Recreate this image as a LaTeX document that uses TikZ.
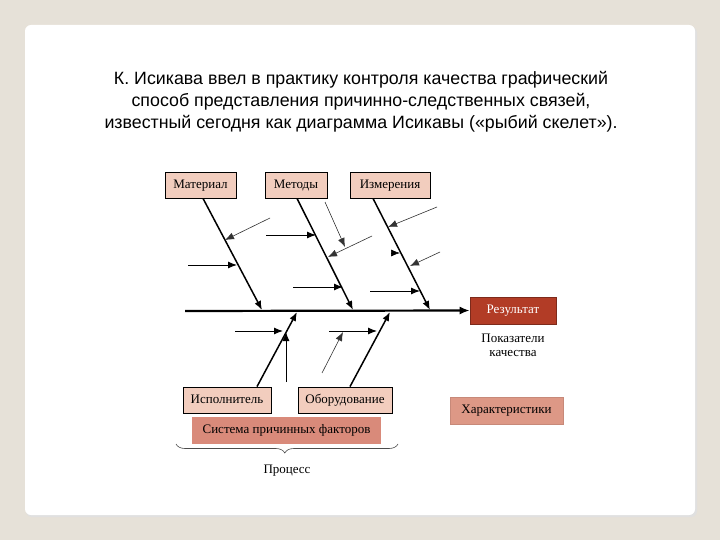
\documentclass[tikz,border=0pt]{standalone}
\usepackage{fontspec}
\setmainfont{Liberation Serif}
\newfontfamily\titlefont{Liberation Sans}
\usetikzlibrary{arrows.meta,decorations.pathreplacing,calc}
\definecolor{pagebg}{HTML}{E6E1D8}
\definecolor{lightbox}{HTML}{F2CDBE}
\definecolor{resbox}{HTML}{B23C26}
\definecolor{sysbox}{HTML}{D98A7A}
\definecolor{charbox}{HTML}{DD9886}
\begin{document}
\begin{tikzpicture}[x=1pt,y=-1pt,
  boxtext/.style={font=\fontsize{13}{15}\selectfont,text height=9pt,text depth=2.5pt},
  catbox/.style={boxtext,draw=black,line width=0.8pt,fill=lightbox,minimum height=26pt,inner sep=0pt},
  bone/.style={line width=1.5pt,-{Latex[length=9pt,width=7pt]}},
  twig/.style={line width=1pt,-{Latex[length=9pt,width=7pt]}},
  thin twig/.style={line width=0.6pt,black!80,-{Latex[length=9pt,width=7pt]}},
  lbl/.style={font=\fontsize{13}{14}\selectfont,align=center}]
\fill[pagebg] (0,0) rectangle (720,540);
\useasboundingbox (0,0) rectangle (720,540);
\fill[black!12,rounded corners=6pt] (26,27) rectangle (697,517);
\fill[white,rounded corners=6pt] (25,25) rectangle (695,515);
\node[font=\titlefont\fontsize{17.8}{22}\selectfont,align=center] (title) at (361,102)
  {К. Исикава ввел в практику контроля качества графический\\
   способ представления причинно-следственных связей,\\
   известный сегодня как диаграмма Исикавы («рыбий скелет»).};
% category boxes
\node[catbox,minimum width=71pt] (mat) at (200.5,185) {Материал};
\node[catbox,minimum width=62pt] (met) at (296,185) {Методы};
\node[catbox,minimum width=80pt] (izm) at (390,185) {Измерения};
\node[catbox,minimum width=88pt] (isp) at (227,400) {Исполнитель};
\node[catbox,minimum width=94pt] (obo) at (345,400) {Оборудование};
\node[boxtext,fill=sysbox,minimum width=189pt,minimum height=27pt,inner sep=0pt] (sys) at (286.5,430.5) {Система причинных факторов};
\node[boxtext,fill=resbox,draw=resbox!70!black,line width=0.6pt,minimum width=86pt,minimum height=27pt,inner sep=0pt,text=white] (res) at (513,310.5) {Результат};
\node[lbl] (pok) at (513,345) {Показатели\\качества};
\node[boxtext,fill=charbox,draw=charbox!90!black,line width=0.4pt,minimum width=113pt,minimum height=27pt,inner sep=0pt] (har) at (506.5,410.5) {Характеристики};
% spine
\coordinate (tail) at (185,311);
\draw[line width=2.2pt,-{Latex[length=10pt,width=8pt]}] (tail) -- (res.west);
% spine points
\coordinate (s1) at (262,310);
\coordinate (s2) at (353,310);
\coordinate (s3) at (430,310);
\coordinate (s4) at (297,312);
\coordinate (s5) at (390,312);
% bones
\draw[bone] (mat.south -| 203,0) -- (s1);
\draw[bone] (met.south -| 297,0) -- (s2);
\draw[bone] (izm.south -| 373,0) -- (s3);
\draw[bone] (isp.north -| 257,0) -- (s4);
\draw[bone] (obo.north -| 350,0) -- (s5);
% twigs - Material
\coordinate (a1) at (270,218); \coordinate (b1) at (225,240);
\coordinate (a2) at (188,265); \coordinate (b2) at (237,265);
\draw[thin twig] (a1) -- (b1);
\draw[twig] (a2) -- (b2);
% Methods
\coordinate (a3) at (266,235); \coordinate (b3) at (316,235);
\coordinate (a4) at (325,202); \coordinate (b4) at (345,247);
\coordinate (a5) at (372,236); \coordinate (b5) at (328,257);
\coordinate (a6) at (293,287); \coordinate (b6) at (343,287);
\draw[twig] (a3) -- (b3);
\draw[thin twig] (a4) -- (b4);
\draw[thin twig] (a5) -- (b5);
\draw[twig] (a6) -- (b6);
% Measurements
\coordinate (a7) at (437,207); \coordinate (b7) at (388,227);
\coordinate (a8) at (391,253); \coordinate (b8) at (400,253);
\coordinate (a9) at (440,252); \coordinate (b9) at (410,266);
\coordinate (a10) at (370,291); \coordinate (b10) at (420,291);
\draw[thin twig] (a7) -- (b7);
\draw[line width=0.6pt,-{Latex[length=9pt,width=7pt]}] (a8) -- (b8);
\draw[thin twig] (a9) -- (b9);
\draw[twig] (a10) -- (b10);
% bottom twigs
\coordinate (a11) at (235,331); \coordinate (b11) at (283,331);
\coordinate (a12) at (286,382); \coordinate (b12) at (286,332);
\coordinate (a13) at (329,331); \coordinate (b13) at (377,331);
\coordinate (a14) at (322,373); \coordinate (b14) at (343,332);
\draw[twig] (a11) -- (b11);
\draw[twig] (a12) -- (b12);
\draw[twig] (a13) -- (b13);
\draw[thin twig] (a14) -- (b14);
% brace
\coordinate (br1) at (176,444);
\coordinate (br2) at (398,444);
\draw[line width=0.6pt,black!70,decorate,decoration={brace,mirror,amplitude=9pt,aspect=0.49}] (br1) -- (br2);
\node[lbl] (proc) at (287,471) {Процесс};
\end{tikzpicture}
\end{document}
